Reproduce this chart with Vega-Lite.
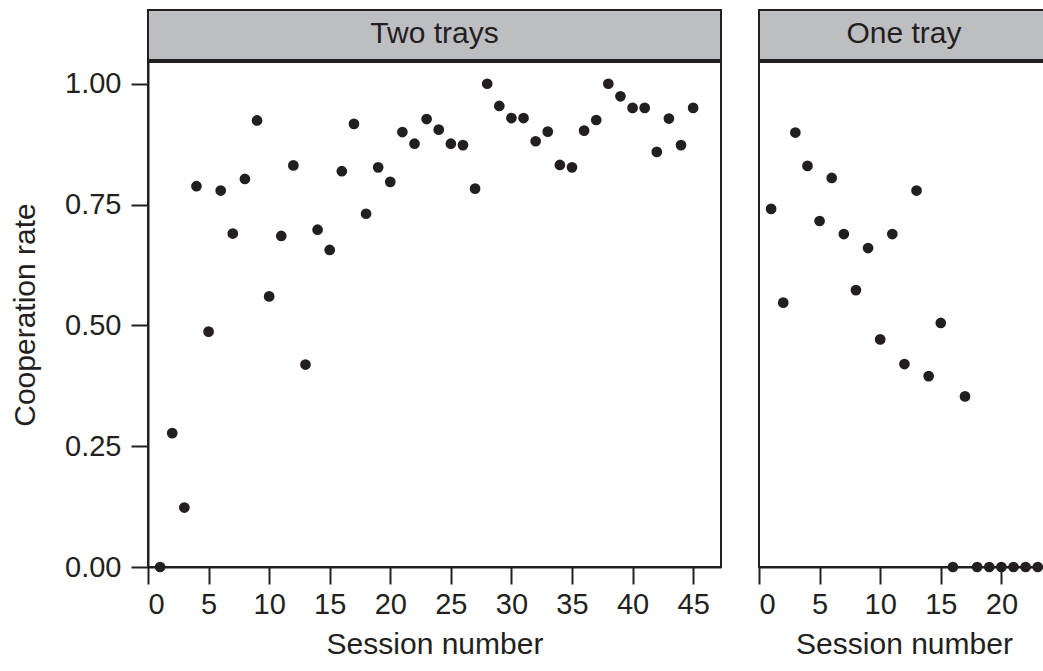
{
  "$schema": "https://vega.github.io/schema/vega-lite/v6.json",
  "padding": {"left": 9, "top": 9, "right": 0, "bottom": 0},
  "background": "white",
  "datasets": {
    "two": [
      {"session": 1, "rate": 0.0}, {"session": 2, "rate": 0.277}, {"session": 3, "rate": 0.123},
      {"session": 4, "rate": 0.788}, {"session": 5, "rate": 0.487}, {"session": 6, "rate": 0.779},
      {"session": 7, "rate": 0.69}, {"session": 8, "rate": 0.803}, {"session": 9, "rate": 0.924},
      {"session": 10, "rate": 0.56}, {"session": 11, "rate": 0.685}, {"session": 12, "rate": 0.831},
      {"session": 13, "rate": 0.419}, {"session": 14, "rate": 0.698}, {"session": 15, "rate": 0.656},
      {"session": 16, "rate": 0.819}, {"session": 17, "rate": 0.917}, {"session": 18, "rate": 0.731},
      {"session": 19, "rate": 0.827}, {"session": 20, "rate": 0.797}, {"session": 21, "rate": 0.9},
      {"session": 22, "rate": 0.876}, {"session": 23, "rate": 0.927}, {"session": 24, "rate": 0.905},
      {"session": 25, "rate": 0.876}, {"session": 26, "rate": 0.873}, {"session": 27, "rate": 0.783},
      {"session": 28, "rate": 1.0}, {"session": 29, "rate": 0.954}, {"session": 30, "rate": 0.929},
      {"session": 31, "rate": 0.929}, {"session": 32, "rate": 0.881}, {"session": 33, "rate": 0.901},
      {"session": 34, "rate": 0.832}, {"session": 35, "rate": 0.827}, {"session": 36, "rate": 0.903},
      {"session": 37, "rate": 0.925}, {"session": 38, "rate": 1.0}, {"session": 39, "rate": 0.974},
      {"session": 40, "rate": 0.95}, {"session": 41, "rate": 0.95}, {"session": 42, "rate": 0.859},
      {"session": 43, "rate": 0.928}, {"session": 44, "rate": 0.873}, {"session": 45, "rate": 0.95}
    ],
    "one": [
      {"session": 1, "rate": 0.741}, {"session": 2, "rate": 0.547}, {"session": 3, "rate": 0.899},
      {"session": 4, "rate": 0.83}, {"session": 5, "rate": 0.716}, {"session": 6, "rate": 0.805},
      {"session": 7, "rate": 0.689}, {"session": 8, "rate": 0.573}, {"session": 9, "rate": 0.66},
      {"session": 10, "rate": 0.471}, {"session": 11, "rate": 0.689}, {"session": 12, "rate": 0.42},
      {"session": 13, "rate": 0.779}, {"session": 14, "rate": 0.395}, {"session": 15, "rate": 0.505},
      {"session": 16, "rate": 0.0}, {"session": 17, "rate": 0.353}, {"session": 18, "rate": 0.0},
      {"session": 19, "rate": 0.0}, {"session": 20, "rate": 0.0}, {"session": 21, "rate": 0.0},
      {"session": 22, "rate": 0.0}, {"session": 23, "rate": 0.0}
    ],
    "strip1": [{"panel": "Two trays"}],
    "strip2": [{"panel": "One tray"}]
  },
  "config": {
    "font": "Liberation Sans",
    "view": {"stroke": "#231f20", "strokeWidth": 2},
    "axis": {
      "domainColor": "#231f20", "domainWidth": 2,
      "tickColor": "#231f20", "tickWidth": 2, "tickSize": 17,
      "labelFontSize": 29, "labelColor": "#231f20",
      "titleFontSize": 30, "titleColor": "#231f20", "titleFontWeight": "normal",
      "grid": false
    },
    "axisX": {"labelPadding": 6, "titlePadding": 10},
    "axisY": {"labelPadding": 10, "titlePadding": 24}
  },
  "spacing": 35,
  "hconcat": [
    {
      "spacing": 0,
      "vconcat": [
        {
          "width": 573, "height": 50,
          "data": {"name": "strip1"},
          "view": {"fill": "#bdbec2", "stroke": "#231f20", "strokeWidth": 2},
          "mark": {"type": "text", "fontSize": 30, "color": "#231f20", "font": "Liberation Sans", "dy": -1},
          "encoding": {"text": {"field": "panel", "type": "nominal"}}
        },
        {
          "width": 573, "height": 505,
          "data": {"name": "two"},
          "mark": {"type": "circle", "size": 115, "color": "#231f20", "opacity": 1},
          "encoding": {
            "x": {"field": "session", "type": "quantitative",
              "scale": {"domain": [0, 47.3], "nice": false, "zero": false},
              "axis": {"values": [0, 5, 10, 15, 20, 25, 30, 35, 40, 45], "title": "Session number"}},
            "y": {"field": "rate", "type": "quantitative",
              "scale": {"domain": [0, 1.045], "nice": false},
              "axis": {"values": [0, 0.25, 0.5, 0.75, 1], "format": ".2f", "title": "Cooperation rate"}}
          }
        }
      ]
    },
    {
      "spacing": 0,
      "vconcat": [
        {
          "width": 290, "height": 50,
          "data": {"name": "strip2"},
          "view": {"fill": "#bdbec2", "stroke": "#231f20", "strokeWidth": 2},
          "mark": {"type": "text", "fontSize": 30, "color": "#231f20", "font": "Liberation Sans", "dy": -1},
          "encoding": {"text": {"field": "panel", "type": "nominal"}}
        },
        {
          "width": 290, "height": 505,
          "data": {"name": "one"},
          "mark": {"type": "circle", "size": 115, "color": "#231f20", "opacity": 1},
          "encoding": {
            "x": {"field": "session", "type": "quantitative",
              "scale": {"domain": [0, 23.93], "nice": false, "zero": false},
              "axis": {"values": [0, 5, 10, 15, 20], "title": "Session number"}},
            "y": {"field": "rate", "type": "quantitative",
              "scale": {"domain": [0, 1.045], "nice": false},
              "axis": null}
          }
        }
      ]
    }
  ]
}
